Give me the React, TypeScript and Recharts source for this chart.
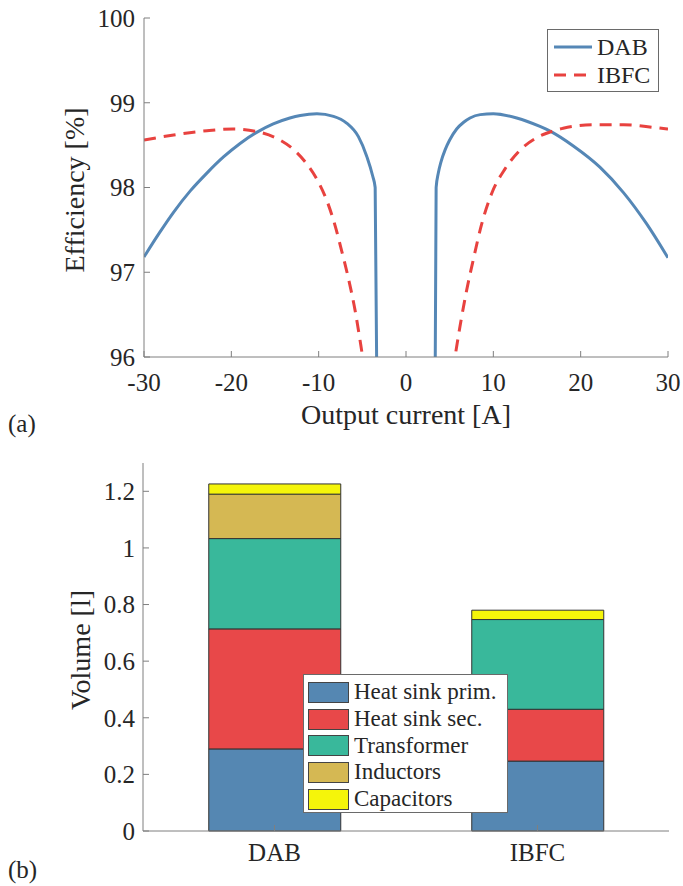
import { LineChart, Line, XAxis, YAxis, Legend, BarChart, Bar, Label } from 'recharts';

const FONT = '"Liberation Serif", "DejaVu Serif", serif';
const AXIS = '#7f7f7f';
const INK = '#262626';
const BLUE = '#5587b6';
const RED = '#e8423f';

// (a) efficiency over output current
const dabCurrent = [-30, -28.2, -26.6, -24.7, -22.8, -20.9, -19, -17.1, -15.2, -13.3, -12.1, -10.2, -8.3, -6.8, -5.45, -4.5, -3.8, -3.53, -3.2, 0, 3.25, 3.45, 3.7, 4.0, 4.5, 5.0, 5.8, 6.6, 7.33, 8.5, 10, 12.68, 15.34, 16.5, 19.16, 22.2, 24.9, 27.56, 30];
const dabEff = [97.18, 97.47, 97.71, 97.96, 98.17, 98.36, 98.52, 98.65, 98.75, 98.82, 98.85, 98.87, 98.84, 98.76, 98.6, 98.37, 98.13, 98.0, 94, null, 94, 98.0, 98.17, 98.3, 98.45, 98.56, 98.69, 98.77, 98.82, 98.86, 98.87, 98.82, 98.72, 98.665, 98.49, 98.24, 97.94, 97.57, 97.17];
const ibfcCurrent = [-30, -26.6, -22.8, -19.8, -17.1, -14.8, -12.9, -11.37, -10.22, -9.08, -8.12, -7.36, -6.6, -5.83, -5.19, -4.4, 0, 5.0, 5.61, 6.18, 6.95, 7.71, 8.67, 9.81, 11.34, 13.05, 15, 16.5, 18, 21.4, 24.9, 28.3, 30];
const ibfcEff = [98.56, 98.62, 98.67, 98.69, 98.66, 98.58, 98.45, 98.28, 98.1, 97.85, 97.55, 97.25, 96.93, 96.55, 96.15, 95.6, null, 95.6, 96.0, 96.36, 96.79, 97.15, 97.57, 97.93, 98.22, 98.44, 98.59, 98.655, 98.7, 98.74, 98.74, 98.71, 98.69];
const currentTicks = [-30, -20, -10, 0, 10, 20, 30];
const effTicks = [96, 97, 98, 99, 100];

// (b) volume breakdown
const converters = ['DAB', 'IBFC'];
const heatSinkPrim = [0.29, 0.247];
const heatSinkSec = [0.424, 0.183];
const transformer = [0.319, 0.317];
const inductors = [0.157, 0];
const capacitors = [0.036, 0.033];
const volumeTicks = [0, 0.2, 0.4, 0.6, 0.8, 1, 1.2];

const dabData = dabCurrent.map((x, i) => ({ x, eff: dabEff[i] }));
const ibfcData = ibfcCurrent.map((x, i) => ({ x, eff: ibfcEff[i] }));

const volumeData = converters.map((name, i) => ({
  name,
  prim: heatSinkPrim[i],
  sec: heatSinkSec[i],
  trafo: transformer[i],
  ind: inductors[i],
  cap: capacitors[i],
}));

const parts = [
  { key: 'prim', name: 'Heat sink prim.', color: '#5587b2' },
  { key: 'sec', name: 'Heat sink sec.', color: '#e84849' },
  { key: 'trafo', name: 'Transformer', color: '#39b89b' },
  { key: 'ind', name: 'Inductors', color: '#d5b853' },
  { key: 'cap', name: 'Capacitors', color: '#f5f50a' },
];

const lineStyles: Record<string, { color: string; dash?: string }> = {
  DAB: { color: BLUE },
  IBFC: { color: RED, dash: '12 8' },
};

const tickStyle = { fill: INK, fontSize: 25, fontFamily: FONT };

function EffLegend({ payload }: any) {
  return (
    <div style={{ border: '1px solid #6a6a6a', background: '#fff', width: 112, height: 63, boxSizing: 'border-box', padding: '3px 0 0 5px', fontFamily: FONT, fontSize: 24, color: INK }}>
      {(payload || []).map((p: any) => {
        const s = lineStyles[p.value];
        return (
          <div key={p.value} style={{ display: 'flex', alignItems: 'center', height: 28 }}>
            <svg width={44} height={10}>
              <line x1={1} y1={5} x2={39} y2={5} stroke={s.color} strokeWidth={3} strokeDasharray={s.dash} />
            </svg>
            <span>{p.value}</span>
          </div>
        );
      })}
    </div>
  );
}

function VolumeLegend() {
  return (
    <div style={{ border: '1px solid #6a6a6a', background: '#fff', width: 205, height: 139, boxSizing: 'border-box', padding: '4px 0 0 4px', fontFamily: FONT, fontSize: 23, color: INK }}>
      {parts.map((p) => (
        <div key={p.key} style={{ display: 'flex', alignItems: 'center', height: 26.7 }}>
          <div style={{ width: 39, height: 19, background: p.color, border: '1px solid #444', marginRight: 5 }} />
          <span>{p.name}</span>
        </div>
      ))}
    </div>
  );
}

function AxisTitle({ x, y, text, rotate }: { x: number; y: number; text: string; rotate?: boolean }) {
  return (
    <text x={x} y={y} textAnchor="middle" dominantBaseline="central" transform={rotate ? `rotate(-90 ${x} ${y})` : undefined} fill={INK} fontSize={28} fontFamily={FONT}>
      {text}
    </text>
  );
}

export default function App() {
  return (
    <div style={{ position: 'absolute', left: 0, top: 0, width: 683, height: 886, background: '#fff', fontFamily: FONT }}>
      <LineChart width={683} height={440} margin={{ top: 18, right: 15, bottom: 23, left: 0 }}>
        <XAxis dataKey="x" type="number" domain={[-30, 30]} ticks={currentTicks} allowDataOverflow stroke={AXIS} tickSize={-6} tickMargin={22} tick={tickStyle} height={60}>
          <Label content={() => <AxisTitle x={406} y={414} text="Output current [A]" />} />
        </XAxis>
        <XAxis xAxisId="top" orientation="top" type="number" domain={[-30, 30]} ticks={currentTicks} allowDataOverflow stroke={AXIS} tickSize={-6} tick={false} height={0} />
        <YAxis type="number" domain={[96, 100]} ticks={effTicks} allowDataOverflow stroke={AXIS} tickSize={-6} tickMargin={15} tick={tickStyle} width={144}>
          <Label content={() => <AxisTitle x={74} y={190} text="Efficiency [%]" rotate />} />
        </YAxis>
        <YAxis yAxisId="right" orientation="right" type="number" domain={[96, 100]} ticks={effTicks} allowDataOverflow stroke={AXIS} tickSize={-6} tick={false} width={0} />
        <Legend layout="vertical" align="center" verticalAlign="middle" content={EffLegend} wrapperStyle={{ left: 547, top: 29, width: 112, height: 63 }} />
        <Line data={dabData} dataKey="eff" name="DAB" type="monotone" stroke={BLUE} strokeWidth={3} dot={false} isAnimationActive={false} />
        <Line data={ibfcData} dataKey="eff" name="IBFC" type="monotone" stroke={RED} strokeWidth={3} strokeDasharray="12 8" dot={false} isAnimationActive={false} />
      </LineChart>
      <span style={{ position: 'absolute', left: 8, top: 410, fontSize: 25, color: INK }}>(a)</span>

      <div style={{ position: 'absolute', left: 0, top: 440 }}>
        <BarChart width={683} height={446} data={volumeData} margin={{ top: 23, right: 14, bottom: 15, left: 0 }} barCategoryGap="25%">
          <XAxis dataKey="name" stroke={AXIS} tickSize={-6} tickMargin={18} tick={tickStyle} height={40} />
          <XAxis xAxisId="top" dataKey="name" orientation="top" stroke={AXIS} tickSize={-6} tick={false} height={0} />
          <YAxis type="number" domain={[0, 1.3]} ticks={volumeTicks} stroke={AXIS} tickSize={-6} tickMargin={14} tick={tickStyle} width={143}>
            <Label content={() => <AxisTitle x={80} y={210} text="Volume [l]" rotate />} />
          </YAxis>
          <YAxis yAxisId="right" orientation="right" type="number" domain={[0, 1.3]} ticks={volumeTicks} stroke={AXIS} tickSize={-6} tick={false} width={0} />
          <Legend layout="vertical" align="center" verticalAlign="middle" content={VolumeLegend} wrapperStyle={{ left: 303, top: 234, width: 205, height: 139 }} />
          {parts.map((p) => (
            <Bar key={p.key} dataKey={p.key} name={p.name} stackId="v" fill={p.color} stroke="#333" strokeWidth={1} isAnimationActive={false} />
          ))}
        </BarChart>
      </div>
      <span style={{ position: 'absolute', left: 8, top: 856, fontSize: 25, color: INK }}>(b)</span>
    </div>
  );
}
